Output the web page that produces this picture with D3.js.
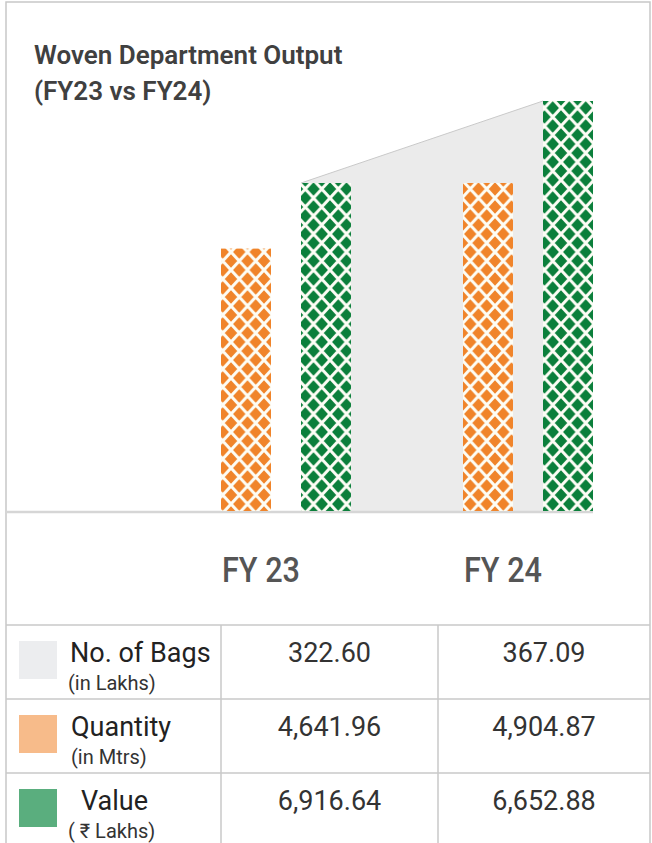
<!DOCTYPE html>
<html>
<head>
<meta charset="utf-8">
<script src="https://cdn.jsdelivr.net/npm/d3@7"></script>
<style>
  body { margin: 0; background: #fff; }
  text { font-family: Roboto, "Noto Sans", sans-serif; }
</style>
</head>
<body>
<div id="chart"></div>
<script>
// Chart data
const years = ["FY 23", "FY 24"];
const series = ["Quantity", "Value"];
// bar heights as drawn (visual index, tallest bar = 100)
const quantityIndex = [64, 80];
const valueIndex = [80, 100];
// table values
const bagsValues = ["322.60", "367.09"];
const quantityValues = ["4,641.96", "4,904.87"];
const valueValues = ["6,916.64", "6,652.88"];
const rowLabels = ["No. of Bags", "Quantity", "Value"];
const rowUnits = ["(in Lakhs)", "(in Mtrs)", "( \u20B9 Lakhs)"];

const width = 652, height = 843;
const baseY = 511;

const svg = d3.select("#chart")
  .append("svg")
  .attr("width", width)
  .attr("height", height);

// Patterns for the bars
const defs = svg.append("defs");
function hatch(id, color) {
  const w = 16.5, h = 18;
  const p = defs.append("pattern")
    .attr("id", id)
    .attr("patternUnits", "userSpaceOnUse")
    .attr("width", w)
    .attr("height", h)
    .attr("x", 0).attr("y", 0);
  p.append("rect").attr("width", w).attr("height", h).attr("fill", color);
  p.append("path")
    .attr("d", `M${-w / 10},${-h / 10}L${w * 1.1},${h * 1.1}M${w * 1.1},${-h / 10}L${-w / 10},${h * 1.1}`)
    .attr("stroke", "#fdfdf5")
    .attr("stroke-width", 3)
    .attr("fill", "none");
}
hatch("hatch-orange", "#f0842a");
hatch("hatch-green", "#0b7f3b");

// Scales
const x0 = d3.scaleBand()
  .domain(years)
  .range([221, 593])
  .paddingInner(112 / 242)
  .paddingOuter(0);

const x1 = d3.scaleBand()
  .domain(series)
  .range([0, x0.bandwidth()])
  .paddingInner(0.375);

const y = d3.scaleLinear()
  .domain([0, 100])
  .range([baseY, 101]);

// Outer frame
svg.append("path")
  .attr("d", `M6,${height}V2H650V${height}`)
  .attr("fill", "none")
  .attr("stroke", "#c8c8c8")
  .attr("stroke-width", 1.5);

// Title
svg.append("text")
  .attr("x", 34).attr("y", 64)
  .attr("font-size", 26).attr("font-weight", 600)
  .attr("fill", "#404040")
  .text("Woven Department Output");
svg.append("text")
  .attr("x", 34).attr("y", 100)
  .attr("font-size", 26).attr("font-weight", 600)
  .attr("fill", "#404040")
  .text("(FY23 vs FY24)");

// No. of Bags area (drawn behind bars)
const areaPts = [
  [x0(years[0]) + x1("Value"), y(valueIndex[0])],
  [x0(years[1]) + x1("Value"), y(valueIndex[1])],
  [x0(years[1]) + x1("Value") + x1.bandwidth(), y(valueIndex[1])],
  [x0(years[1]) + x1("Value") + x1.bandwidth(), y(0)],
  [x0(years[0]) + x1("Value"), y(0)]
];
svg.append("path")
  .attr("d", d3.line()(areaPts) + "Z")
  .attr("fill", "#ebebeb");
svg.append("path")
  .attr("d", d3.line()(areaPts.slice(0, 2)))
  .attr("stroke", "#c9c9c9")
  .attr("stroke-width", 1)
  .attr("fill", "none");

// Baseline
svg.append("line")
  .attr("x1", 6).attr("x2", 593)
  .attr("y1", baseY + 1).attr("y2", baseY + 1)
  .attr("stroke", "#d6d6d6")
  .attr("stroke-width", 2.5);

// Bars
const barData = [];
years.forEach((yr, i) => {
  barData.push({ year: yr, key: "Quantity", v: quantityIndex[i], fill: "url(#hatch-orange)" });
  barData.push({ year: yr, key: "Value", v: valueIndex[i], fill: "url(#hatch-green)" });
});
svg.append("g")
  .selectAll("rect")
  .data(barData)
  .join("rect")
  .attr("x", d => x0(d.year) + x1(d.key))
  .attr("y", d => y(d.v))
  .attr("width", x1.bandwidth())
  .attr("height", d => y(0) - y(d.v))
  .attr("fill", d => d.fill);

// Year labels
svg.append("g")
  .selectAll("text")
  .data(years)
  .join("text")
  .attr("x", d => x0(d) + 1)
  .attr("y", 582)
  .attr("font-size", 35)
  .attr("font-weight", 500)
  .attr("fill", "#555")
  .attr("textLength", 78)
  .attr("lengthAdjust", "spacingAndGlyphs")
  .text(d => d);

// Table
const rowTop = [625, 699, 773];
const colX = [6, 221, 438, 650];
const tbl = svg.append("g");
rowTop.forEach(t => {
  tbl.append("line")
    .attr("x1", 6).attr("x2", 650)
    .attr("y1", t).attr("y2", t)
    .attr("stroke", "#c8c8c8").attr("stroke-width", 1.5);
});
[221, 438].forEach(cx => {
  tbl.append("line")
    .attr("x1", cx).attr("x2", cx)
    .attr("y1", 625).attr("y2", height)
    .attr("stroke", "#c8c8c8").attr("stroke-width", 1.5);
});

const swatchColors = ["#ecedef", "#f7bb8a", "#5aae7e"];
const labelX = [70, 71, 81];
const unitX = [68, 71, 68];
const tableVals = [bagsValues, quantityValues, valueValues];

rowLabels.forEach((lab, i) => {
  const t = rowTop[i];
  tbl.append("rect")
    .attr("x", 19).attr("y", t + 16)
    .attr("width", 38).attr("height", 38)
    .attr("fill", swatchColors[i]);
  tbl.append("text")
    .attr("x", labelX[i]).attr("y", t + 37)
    .attr("font-size", 27)
    .attr("fill", "#222")
    .text(lab);
  tbl.append("text")
    .attr("x", unitX[i]).attr("y", t + 65)
    .attr("font-size", 20)
    .attr("fill", "#333")
    .text(rowUnits[i]);
  tableVals[i].forEach((v, j) => {
    tbl.append("text")
      .attr("x", (colX[j + 1] + colX[j + 2]) / 2)
      .attr("y", t + 37)
      .attr("text-anchor", "middle")
      .attr("font-size", 27)
      .attr("fill", "#333")
      .text(v);
  });
});
</script>
</body>
</html>
